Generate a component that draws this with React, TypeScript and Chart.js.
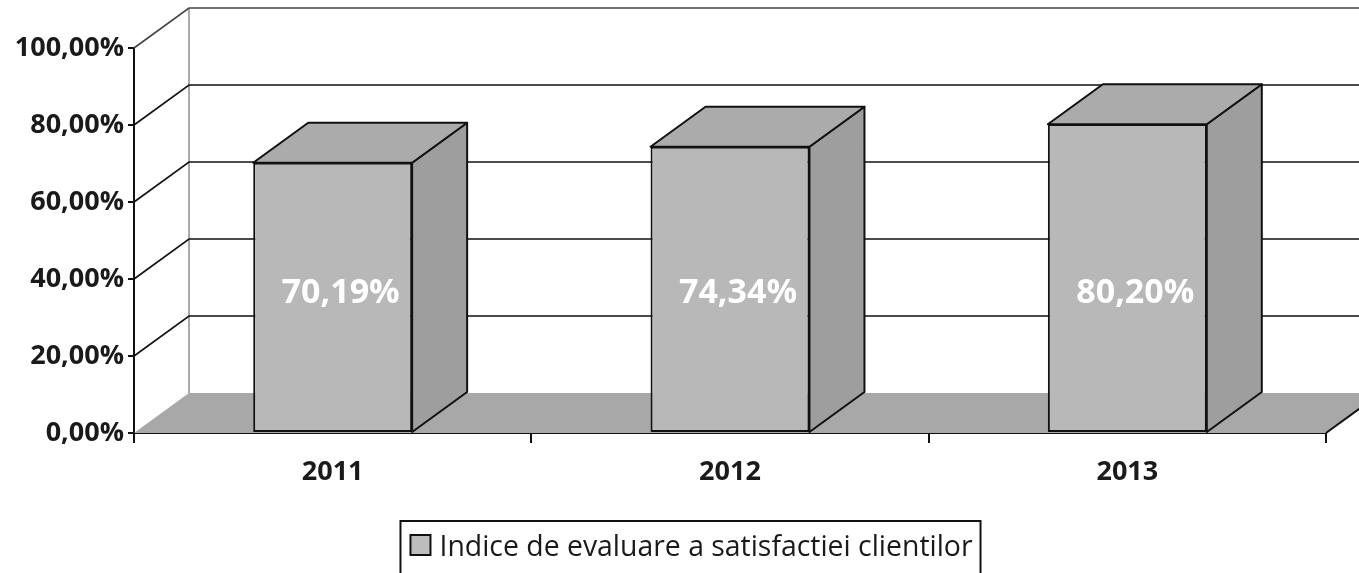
import React, { useEffect, useRef } from 'react';
import { Chart, registerables } from 'chart.js';

Chart.register(...registerables);

const categories = ['2011', '2012', '2013'];
const values = [70.19, 74.34, 80.2];
const seriesLabel = 'Indice de evaluare a satisfactiei clientilor';
const yTicks = [0, 20, 40, 60, 80, 100];
const labelAnchorValue = 36.2;

const DX = 55;
const DY = -40;
const FONT = '"Open Sans", sans-serif';

const fmt = (v: number) => v.toFixed(2).replace('.', ',') + '%';

const threeD = {
  id: 'threeD',
  beforeDatasetsDraw(chart: any) {
    const { ctx, chartArea, scales } = chart;
    const { left, right } = chartArea;
    const y = scales.y;
    const y0 = y.getPixelForValue(0);
    const yTop = y.getPixelForValue(100);
    ctx.save();
    // floor
    ctx.fillStyle = '#a8a8a8';
    ctx.beginPath();
    ctx.moveTo(left, y0);
    ctx.lineTo(right, y0);
    ctx.lineTo(right + DX, y0 + DY);
    ctx.lineTo(left + DX, y0 + DY);
    ctx.closePath();
    ctx.fill();
    ctx.strokeStyle = '#111';
    ctx.lineWidth = 2;
    ctx.beginPath();
    ctx.moveTo(right, y0);
    ctx.lineTo(right + DX, y0 + DY);
    ctx.stroke();
    // back-left vertical edge
    ctx.strokeStyle = '#555';
    ctx.lineWidth = 1;
    ctx.beginPath();
    ctx.moveTo(left + DX, y0 + DY);
    ctx.lineTo(left + DX, yTop + DY);
    ctx.stroke();
    // gridlines on back wall + side wall diagonals
    ctx.lineWidth = 1.6;
    for (const v of yTicks) {
      if (v === 0) continue;
      const py = y.getPixelForValue(v);
      ctx.strokeStyle = v === 100 ? '#444' : '#111';
      ctx.beginPath();
      ctx.moveTo(left, py);
      ctx.lineTo(left + DX, py + DY);
      ctx.lineTo(right + DX + 10, py + DY);
      ctx.stroke();
    }
    ctx.restore();
  },
  afterDatasetsDraw(chart: any) {
    const { ctx, scales } = chart;
    const meta = chart.getDatasetMeta(0);
    const labelY = scales.y.getPixelForValue(labelAnchorValue);
    ctx.save();
    meta.data.forEach((bar: any, i: number) => {
      const { x, y: top, base, width } = bar.getProps(['x', 'y', 'base', 'width'], true);
      const l = x - width / 2;
      const r = x + width / 2;
      ctx.lineWidth = 2;
      ctx.strokeStyle = '#111';
      ctx.lineJoin = 'round';
      // side face
      ctx.fillStyle = '#9e9e9e';
      ctx.beginPath();
      ctx.moveTo(r, top);
      ctx.lineTo(r + DX, top + DY);
      ctx.lineTo(r + DX, base + DY);
      ctx.lineTo(r, base);
      ctx.closePath();
      ctx.fill();
      ctx.stroke();
      // top face
      ctx.fillStyle = '#ababab';
      ctx.beginPath();
      ctx.moveTo(l, top);
      ctx.lineTo(l + DX, top + DY);
      ctx.lineTo(r + DX, top + DY);
      ctx.lineTo(r, top);
      ctx.closePath();
      ctx.fill();
      ctx.stroke();
      // value label
      ctx.fillStyle = '#ffffff';
      ctx.font = `bold 34px ${FONT}`;
      ctx.textAlign = 'center';
      ctx.textBaseline = 'middle';
      ctx.fillText(fmt(values[i]), x + 8, labelY);
    });
    ctx.restore();
  },
  afterDraw(chart: any) {
    const { ctx } = chart;
    ctx.save();
    ctx.font = `28.4px ${FONT}`;
    const tw = ctx.measureText(seriesLabel).width;
    const boxW = 10 + 20 + 9 + tw + 8;
    const cx = 690.5;
    const bx = cx - boxW / 2;
    const by = 521;
    ctx.strokeStyle = '#111';
    ctx.lineWidth = 2;
    ctx.strokeRect(bx, by, boxW, 70);
    ctx.fillStyle = '#bdbdbd';
    ctx.fillRect(bx + 10, 535, 20, 20);
    ctx.strokeRect(bx + 10, 535, 20, 20);
    ctx.fillStyle = '#1a1a1a';
    ctx.textBaseline = 'alphabetic';
    ctx.textAlign = 'left';
    ctx.fillText(seriesLabel, bx + 39, 556);
    ctx.restore();
  },
};

export default function App() {
  const ref = useRef<HTMLCanvasElement>(null);
  useEffect(() => {
    document.body.style.margin = '0';
    const canvas = ref.current;
    if (!canvas) return;
    const chart = new Chart(canvas, {
      type: 'bar',
      data: {
        labels: categories,
        datasets: [
          {
            label: seriesLabel,
            data: values,
            backgroundColor: '#b8b8b8',
            borderColor: '#111',
            borderWidth: 2,
            borderSkipped: false,
            barPercentage: 0.4,
            categoryPercentage: 1,
          },
        ],
      },
      options: {
        responsive: false,
        animation: false,
        devicePixelRatio: 1,
        layout: { padding: { left: 0, right: 33, top: 48, bottom: 80 } },
        plugins: { legend: { display: false }, tooltip: { enabled: false } },
        scales: {
          x: {
            grid: { display: true, drawOnChartArea: false, drawTicks: true, tickLength: 10, color: '#111', lineWidth: 2, offset: true },
            border: { display: true, color: '#111', width: 2 },
            ticks: { color: '#1a1a1a', font: { family: FONT, size: 27, weight: 'bold' }, padding: 13 },
            afterFit: (s: any) => { s.height = 60; },
          },
          y: {
            min: 0,
            max: 100,
            ticks: {
              stepSize: 20,
              color: '#1a1a1a',
              font: { family: FONT, size: 27, weight: 'bold' },
              padding: 4,
              callback: (v: any) => fmt(Number(v)),
            },
            grid: { display: true, drawOnChartArea: false, drawTicks: true, tickLength: 6, color: '#111', lineWidth: 2 },
            border: { display: true, color: '#111', width: 2 },
            afterFit: (s: any) => { s.width = 134; },
          },
        },
      },
      plugins: [threeD],
    });
    return () => chart.destroy();
  }, []);
  return (
    <div style={{ width: 1359, height: 573 }}>
      <canvas ref={ref} width={1359} height={573} style={{ display: 'block' }} />
    </div>
  );
}
